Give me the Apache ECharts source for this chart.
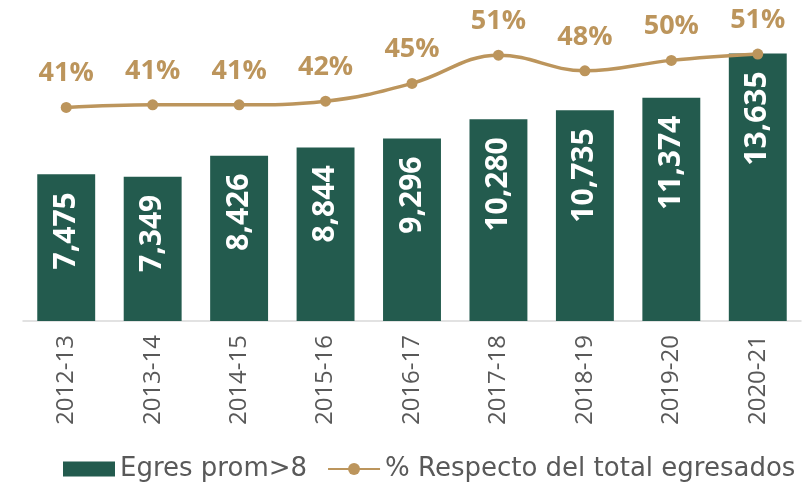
<!DOCTYPE html>
<html>
<head>
<meta charset="utf-8">
<script src="https://cdn.jsdelivr.net/npm/echarts@6/dist/echarts.min.js"></script>
<style>
  html, body { margin: 0; padding: 0; background: #fff; }
  #chart { width: 803px; height: 484px; }
</style>
</head>
<body>
<div id="chart"></div>
<script>
// ciclos escolares
var categories = ["2012-13", "2013-14", "2014-15", "2015-16", "2016-17", "2017-18", "2018-19", "2019-20", "2020-21"];
// egresados con promedio > 8
var egresados = [7475, 7349, 8426, 8844, 9296, 10280, 10735, 11374, 13635];
// % respecto del total de egresados
var porcentaje = [40.8, 41.3, 41.3, 42.0, 45.4, 50.8, 47.8, 49.8, 51.0];

var verde = "#235B4E";
var dorado = "#BC955C";

var chart = echarts.init(document.getElementById("chart"));
chart.setOption({
  animation: false,
  grid: {
    left: 23,
    right: 2,
    top: 7,
    bottom: 163,
    outerBoundsMode: "none"
  },
  legend: {
    left: 63,
    top: 456,
    padding: 0,
    itemWidth: 52,
    itemHeight: 15,
    itemGap: 20,
    textStyle: {
      fontFamily: "DejaVu Sans",
      fontSize: 26,
      color: "#595959"
    },
    data: [
      { name: "Egres prom>8", icon: "rect" },
      { name: "% Respecto del total egresados" }
    ]
  },
  xAxis: {
    type: "category",
    data: categories,
    axisLine: { lineStyle: { color: "#d9d9d9", width: 1.5 } },
    axisTick: { length: 7, lineStyle: { color: "#d9d9d9", width: 1.5 } },
    axisLabel: {
      rotate: 90,
      margin: 14,
      fontFamily: "Open Sans",
      fontSize: 24,
      color: "#595959"
    }
  },
  yAxis: [
    { type: "value", min: 0, max: 16000, show: false, splitLine: { show: false } },
    { type: "value", min: 0, max: 60, show: false, splitLine: { show: false } }
  ],
  series: [
    {
      name: "Egres prom>8",
      type: "bar",
      data: egresados,
      barCategoryGap: "33%",
      itemStyle: { color: verde },
      label: {
        show: true,
        position: "insideTop",
        distance: 18,
        rotate: 90,
        align: "right",
        verticalAlign: "middle",
        color: "#fff",
        fontFamily: "Open Sans",
        fontWeight: "bold",
        fontSize: 30,
        formatter: function (p) {
          return p.value.toLocaleString("en-US");
        }
      }
    },
    {
      name: "% Respecto del total egresados",
      type: "line",
      yAxisIndex: 1,
      data: porcentaje,
      smooth: 0.4,
      symbol: "circle",
      symbolSize: 11,
      lineStyle: { color: dorado, width: 3.5 },
      itemStyle: { color: dorado },
      label: {
        show: true,
        position: "top",
        distance: 15,
        color: dorado,
        fontFamily: "Open Sans",
        fontWeight: "bold",
        fontSize: 27,
        formatter: function (p) {
          return Math.round(p.value) + "%";
        }
      }
    }
  ]
});
</script>
</body>
</html>
